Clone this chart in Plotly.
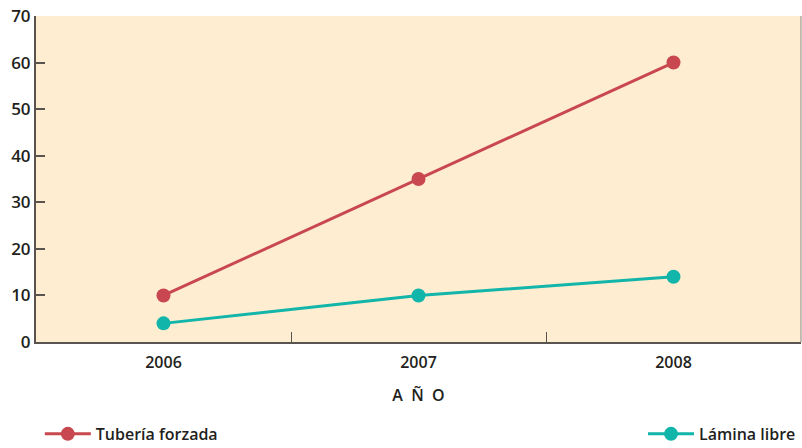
import plotly.graph_objects as go

years = ["2006", "2007", "2008"]
tuberia_forzada = [10, 35, 60]
lamina_libre = [4, 10, 14]

RED = "#C9474F"
TEAL = "#12B5A9"
DARK = "#231F20"
AXIS = "#5A5450"

fig = go.Figure()

fig.add_trace(go.Scatter(
    x=years, y=tuberia_forzada, name="Tubería forzada",
    mode="lines+markers",
    line=dict(color=RED, width=3),
    marker=dict(color=RED, size=14),
    legend="legend",
))
fig.add_trace(go.Scatter(
    x=years, y=lamina_libre, name="Lámina libre",
    mode="lines+markers",
    line=dict(color=TEAL, width=3),
    marker=dict(color=TEAL, size=14),
    legend="legend2",
))

font = dict(family="Open Sans, Lato, sans-serif", color=DARK, size=16, weight=600)

fig.update_layout(
    width=802, height=448,
    margin=dict(l=36, r=1, t=16, b=106, autoexpand=False),
    paper_bgcolor="white",
    plot_bgcolor="#FEEDD0",
    font=font,
    showlegend=True,
    legend=dict(x=0.005, xanchor="left", y=-0.282, yanchor="middle",
                font=dict(size=16, color=DARK, weight=600),
                bgcolor="rgba(0,0,0,0)", itemwidth=46),
    legend2=dict(x=1.0, xanchor="right", y=-0.282, yanchor="middle",
                 font=dict(size=16, color=DARK, weight=600),
                 bgcolor="rgba(0,0,0,0)", itemwidth=46),
    xaxis=dict(
        type="category", range=[-0.5, 2.5], automargin=False,
        showgrid=False, zeroline=False,
        showline=True, linecolor=AXIS, linewidth=2, mirror=False,
        ticks="inside", tickson="boundaries", ticklen=10, tickcolor=AXIS, tickwidth=1,
        ticklabelstandoff=5,
        tickfont=dict(size=16, color=DARK, weight=600),
        title=dict(text="A  Ñ  O", font=dict(size=16, color=DARK, weight=600), standoff=18),
    ),
    yaxis=dict(
        range=[0, 70], dtick=10, automargin=False,
        showgrid=False, zeroline=False,
        showline=True, linecolor=AXIS, linewidth=2,
        ticks="inside", ticklen=9, tickcolor=AXIS, tickwidth=2,
        tickfont=dict(size=17, color=DARK, weight=600),
    ),
)

# thin right border of the plot area
fig.add_shape(type="line", xref="paper", yref="paper", x0=1, x1=1, y0=0, y1=1,
              line=dict(color="#8A8580", width=1))

fig.write_html("out.html", config={"displayModeBar": False},
               post_script="document.body.style.margin='0';")
